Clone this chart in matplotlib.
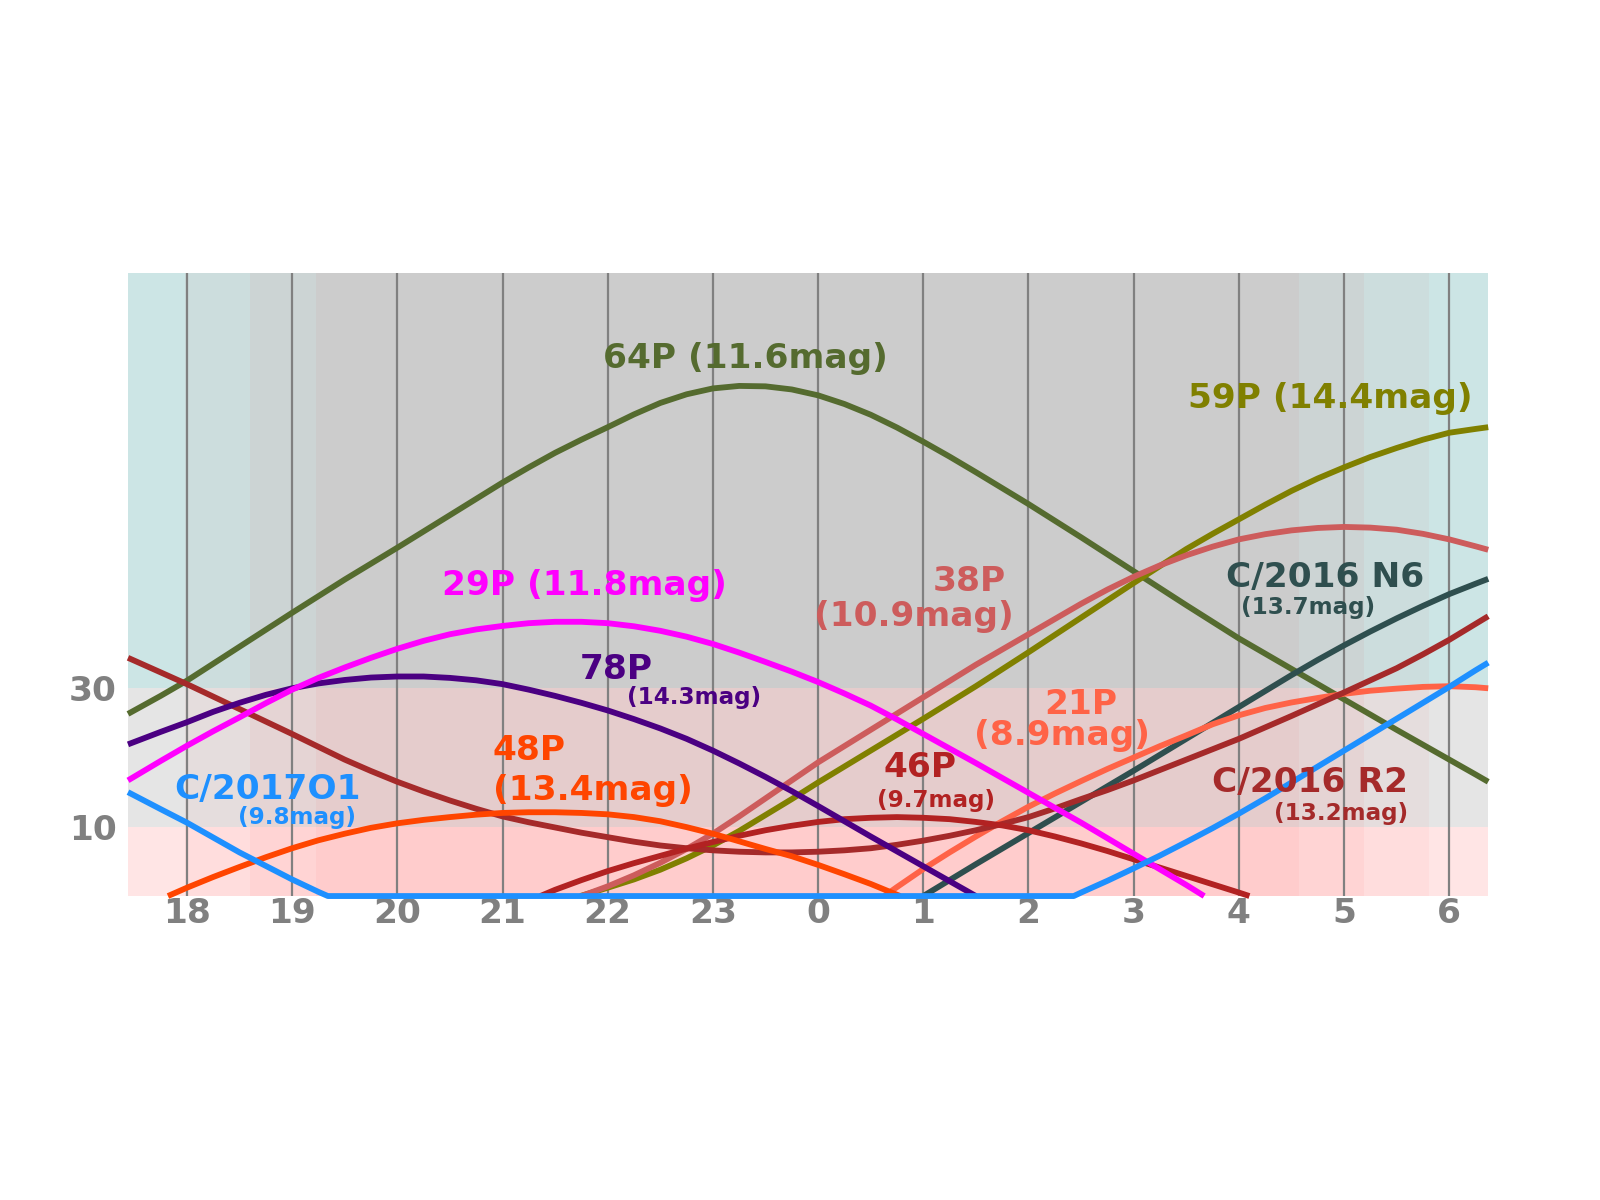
"""Comet altitude chart for one night"""

# Matplotlib
from matplotlib import pyplot as plt

# Numpy
import numpy as np


# hours of the night (24+ is the next morning), sampled every quarter hour
hours = [17.44] + list(np.arange(17.75, 30.3, 0.25)) + [30.37]

# altitude in degrees at each hour, None while below the horizon
alt_64p = [26.3, 28.9, 31.1, 33.55, 36.0, 38.45, 40.9, 43.3, 45.7, 48.0,
           50.3, 52.65, 55.0, 57.35, 59.7, 61.9, 64.0, 65.9, 67.7, 69.55,
           71.2, 72.45, 73.3, 73.66, 73.6, 73.15, 72.3, 71.05, 69.5, 67.65,
           65.6, 63.45, 61.2, 58.9, 56.6, 54.2, 51.8, 49.35, 46.9, 44.45,
           42.0, 39.6, 37.2, 35.0, 32.8, 30.6, 28.4, 26.2, 24.0, 21.85,
           19.7, 17.55, 16.5]
alt_59p = [None] * 18 + [
    1.2, 2.4, 3.8, 5.45, 7.3, 9.4, 11.7, 14.0, 16.4, 18.7, 21.0, 23.3, 25.6,
    27.95, 30.3, 32.75, 35.2, 37.7, 40.2, 42.7, 45.2, 47.65, 50.1, 52.3,
    54.4, 56.5, 58.5, 60.3, 61.9, 63.4, 64.7, 65.9, 66.9, 67.45, 67.7]
alt_38p = [None] * 18 + [
    1.4, 3.0, 4.8, 6.8, 9.0, 11.5, 14.1, 16.7, 19.3, 21.65, 24.0, 26.35,
    28.7, 31.05, 33.4, 35.6, 37.8, 40.0, 42.2, 44.25, 46.1, 47.75, 49.2,
    50.45, 51.5, 52.25, 52.8, 53.15, 53.3, 53.2, 52.9, 52.3, 51.5, 50.5,
    50.0]
alt_n6 = [None] * 30 + [
    0.0, 2.3, 4.6, 6.85, 9.1, 11.35, 13.6, 15.85, 18.1, 20.4, 22.7, 25.0,
    27.3, 29.6, 31.9, 34.1, 36.2, 38.2, 40.1, 41.9, 43.6, 45.1, 45.8]
alt_21p = [None] * 29 + [
    1.3, 3.9, 6.3, 8.6, 10.8, 12.9, 14.8, 16.6, 18.35, 20.0, 21.65, 23.2,
    24.8, 26.1, 27.15, 27.95, 28.6, 29.2, 29.65, 29.95, 30.2, 30.3, 30.15,
    30.0]
alt_r2 = [34.4, 32.3, 30.6, 28.8, 27.0, 25.2, 23.4, 21.55, 19.7, 18.05,
          16.5, 15.1, 13.8, 12.6, 11.5, 10.65, 9.9, 9.15, 8.5, 7.85, 7.3,
          6.9, 6.6, 6.4, 6.3, 6.3, 6.4, 6.6, 6.9, 7.4, 8.0, 8.7, 9.5, 10.4,
          11.4, 12.65, 14.0, 15.3, 16.7, 18.2, 19.7, 21.2, 22.7, 24.35, 26.0,
          27.7, 29.4, 31.15, 32.9, 34.9, 37.0, 39.3, 40.4]
alt_46p = [None] * 16 + [
    0.9, 2.3, 3.6, 4.75, 5.8, 6.85, 7.8, 8.7, 9.5, 10.15, 10.7, 11.1, 11.3,
    11.4, 11.3, 11.1, 10.7, 10.2, 9.5, 8.6, 7.6, 6.5, 5.3, 4.1, 2.9, 1.7,
    0.5] + [None] * 10
alt_48p = [None] * 2 + [
    1.2, 2.75, 4.2, 5.6, 6.9, 8.05, 9.0, 9.85, 10.5, 11.0, 11.4, 11.75,
    12.0, 12.1, 12.1, 12.0, 11.8, 11.4, 10.8, 9.95, 9.0, 7.9, 6.8, 5.75,
    4.5, 3.15, 1.75] + [None] * 24
alt_78p = [21.9, 23.7, 25.1, 26.6, 27.9, 29.05, 30.0, 30.7, 31.2, 31.55,
           31.7, 31.7, 31.5, 31.15, 30.6, 29.8, 28.9, 27.9, 26.8, 25.55,
           24.2, 22.7, 21.0, 19.15, 17.2, 15.15, 13.0, 10.8, 8.6, 6.45, 4.3,
           2.15, 0.0] + [None] * 20
alt_29p = [16.7, 19.5, 21.7, 23.8, 25.8, 27.85, 29.8, 31.5, 33.0, 34.4,
           35.7, 36.85, 37.8, 38.5, 39.0, 39.4, 39.6, 39.6, 39.4, 38.95,
           38.3, 37.45, 36.4, 35.15, 33.8, 32.4, 30.9, 29.25, 27.5, 25.5,
           23.4, 21.3, 19.2, 17.05, 14.9, 12.75, 10.6, 8.35, 6.1, 3.85,
           1.6] + [None] * 12
alt_o1 = [15.0, 12.55, 10.6, 8.45, 6.3, 4.35, 2.4, 0.6] + [0.0] * 28 + [
    0.5, 2.2, 4.0, 5.85, 7.8, 9.8, 11.9, 14.1, 16.4, 18.7, 21.0, 23.3, 25.6,
    27.9, 30.2, 32.6, 33.7]

comets = ['64P', '59P', '38P', 'C/2016 N6', '21P', 'C/2016 R2', '46P', '48P',
          '78P', '29P', 'C/2017O1']
mags = [11.6, 14.4, 10.9, 13.7, 8.9, 13.2, 9.7, 13.4, 14.3, 11.8, 9.8]
altitudes = [alt_64p, alt_59p, alt_38p, alt_n6, alt_21p, alt_r2, alt_46p,
             alt_48p, alt_78p, alt_29p, alt_o1]
# hours where each comet crosses the horizon
horizon = [[], [21.74], [21.75], [], [24.63], [], [21.36, 28.1],
           [17.82, 24.78], [], [27.67], [19.34, 26.43]]

# twilight band edges (hours) and altitude bands (degrees)
twilight_edges = [17.437, 17.98, 18.60, 19.23, 28.573, 29.19, 29.807, 30.365]
altitude_edges = [0, 10, 30, 90]

colors = ['darkolivegreen', 'olive', 'indianred', 'darkslategray', 'tomato',
          'brown', 'firebrick', 'orangered', 'indigo', 'magenta', 'dodgerblue']
sky_shade = [229, 221, 212, 204, 212, 221, 229]
alt_shade = [255, 229, 204]

BIG = 12.4
SMALL = 8.3
# label layout: name (x, y, size), magnitude (x, y, size); None = one line
label_pos = [
    ((23.31, 76.3, BIG), None),
    ((28.87, 70.4, BIG), None),
    ((25.44, 44.1, BIG), (24.91, 39.0, BIG)),
    ((28.82, 44.65, BIG), (28.66, 40.7, SMALL)),
    ((26.50, 26.3, BIG), (26.32, 21.75, BIG)),
    ((28.68, 15.0, BIG), (28.97, 10.95, SMALL)),
    ((24.97, 17.2, BIG), (25.12, 12.85, SMALL)),
    ((21.25, 19.6, BIG), (21.86, 13.85, BIG)),
    ((22.08, 31.35, BIG), (22.82, 27.75, SMALL)),
    ((21.78, 43.5, BIG), None),
    ((18.77, 14.05, BIG), (19.05, 10.45, SMALL)),
]


def track(alts, crossings):
    """Points above the horizon plus the horizon crossings"""
    t = [h for h, a in zip(hours, alts) if a is not None] + crossings
    a = [a for a in alts if a is not None] + [0.0] * len(crossings)
    order = np.argsort(t)
    return np.array(t)[order], np.array(a)[order]


def generate_plot():
    """Draw the chart"""
    fig = plt.figure(figsize=(8, 6), dpi=200)
    ax = fig.add_axes([0.0798, 0.2533, 0.85, 0.5194])

    for i in range(len(twilight_edges) - 1):
        for j in range(len(altitude_edges) - 1):
            r = alt_shade[j] / 255
            g = sky_shade[i] / 255
            ax.fill_between(twilight_edges[i:i + 2], altitude_edges[j],
                            altitude_edges[j + 1], color=(r, g, g),
                            linewidth=0, zorder=0)

    for k, name in enumerate(comets):
        t, a = track(altitudes[k], horizon[k])
        ax.plot(t, a, color=colors[k], lw=2.1, zorder=3, clip_on=False,
                solid_capstyle='butt')
        main, sub = label_pos[k]
        if sub is None:
            ax.text(main[0], main[1], f'{name} ({mags[k]}mag)', ha='center',
                    va='baseline', fontsize=main[2], fontweight='bold',
                    color=colors[k], zorder=4)
        else:
            ax.text(main[0], main[1], name, ha='center', va='baseline',
                    fontsize=main[2], fontweight='bold', color=colors[k],
                    zorder=4)
            ax.text(sub[0], sub[1], f'({mags[k]}mag)', ha='center',
                    va='baseline', fontsize=sub[2], fontweight='bold',
                    color=colors[k], zorder=4)

    ticks = list(range(18, 31))
    ax.set_xticks(ticks, [str(h % 24) for h in ticks])
    ax.set_yticks([10, 30])
    ax.set_xlim(twilight_edges[0], twilight_edges[-1])
    ax.set_ylim(altitude_edges[0], altitude_edges[-1])
    ax.grid(axis='x', color='grey', lw=0.8)
    ax.tick_params(axis='x', length=0, pad=0.5)
    ax.tick_params(axis='y', length=0, pad=4)
    for lab in ax.get_xticklabels() + ax.get_yticklabels():
        lab.set_fontsize(BIG)
        lab.set_fontweight('bold')
        lab.set_color('grey')
    for spine in ax.spines.values():
        spine.set_visible(False)

    fig.savefig('out.png', dpi=200)


if __name__ == '__main__':
    generate_plot()
